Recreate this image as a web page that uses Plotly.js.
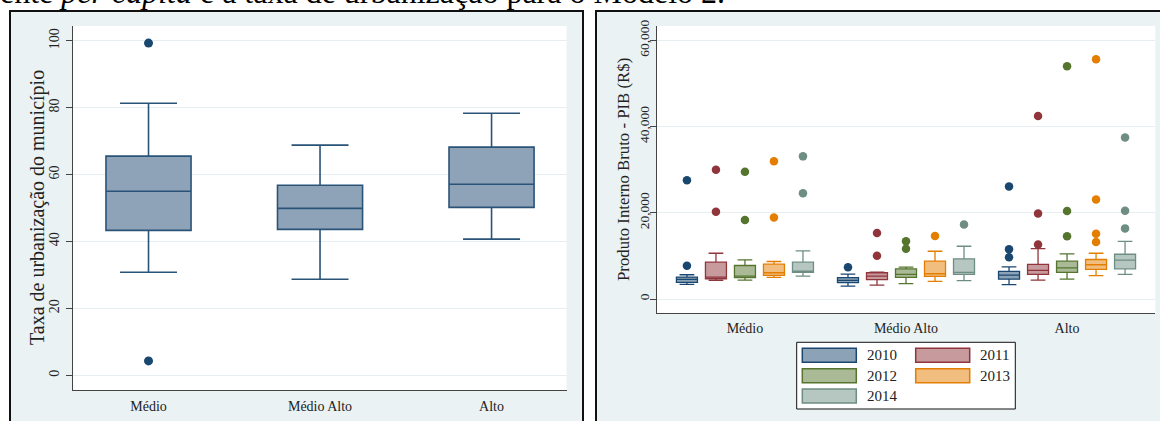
<!DOCTYPE html>
<html><head><meta charset="utf-8">
<script src="https://cdn.plot.ly/plotly-3.0.1.min.js"></script>
<style>html,body{margin:0;padding:0;background:#fff;} #chart{width:1160px;height:421px;}</style>
</head><body><div id="chart"></div>
<script>
// ---- Left panel: taxa de urbanização ----
const urbCategories = ['Médio', 'Médio Alto', 'Alto'];
const urbLowerFence = [30.8, 28.7, 40.7];
const urbQ1 = [43.3, 43.6, 50.2];
const urbMedian = [55.0, 49.9, 57.1];
const urbQ3 = [65.5, 56.8, 68.2];
const urbUpperFence = [81.3, 68.8, 78.3];
const urbOutlierCat = ['Médio', 'Médio'];
const urbOutlierVal = [99.3, 4.3];
const urbTicks = [0, 20, 40, 60, 80, 100];

// ---- Right panel: PIB by group and year ----
const pibGroups = ['Médio', 'Médio Alto', 'Alto'];
const years = ['2010', '2011', '2012', '2013', '2014'];
const yearColors = ['#1a476f', '#90353b', '#55752f', '#e37e00', '#6e8e84'];
// each row = one year, values for [Médio, Médio Alto, Alto]
const pibLower = [[3390, 3000, 3320], [4310, 3230, 4380], [4380, 3550, 4610], [5010, 4080, 5400], [5310, 4240, 5700]];
const pibQ1 = [[3850, 3780, 4610], [4700, 4480, 5700], [4940, 5010, 6160], [5470, 5240, 6850], [6160, 5700, 7010]];
const pibMedian = [[4540, 4310, 5540], [5080, 5310, 6620], [5310, 5700, 7240], [6090, 5860, 7940], [6460, 6160, 9000]];
const pibQ3 = [[5080, 4940, 6390], [8540, 6090, 8010], [7770, 7010, 8770], [8070, 8770, 9160], [8540, 9320, 10380]];
const pibUpper = [[5630, 5770, 7470], [10610, 6230, 11700], [9090, 7380, 10470], [8700, 11070, 10610], [11160, 12230, 13380]];
// outliers: group index and value, per year
const pibOutGroup = [[0, 0, 1, 2, 2, 2], [0, 0, 1, 1, 2, 2, 2], [0, 0, 1, 1, 2, 2, 2], [0, 0, 1, 2, 2, 2, 2], [0, 0, 1, 2, 2, 2]];
const pibOutVal = [
  [27550, 7700, 7380, 26070, 11540, 9690],
  [30000, 20230, 15320, 10010, 42450, 19840, 12620],
  [29530, 18320, 13380, 11630, 53990, 20390, 14530],
  [31930, 18920, 14630, 55600, 23070, 15160, 13240],
  [33080, 24550, 17300, 37470, 20460, 16380]
];
const pibTicks = [0, 20000, 40000, 60000];

// ---- layout helpers ----
const W = 1160, H = 421;
const px = x => x / W;
const py = y => 1 - y / H;
const SERIF = 'Liberation Serif';
const slot = 29 / 161, boxW = 21 / 161;

function rgba(hex, a) {
  const n = parseInt(hex.slice(1), 16);
  return `rgba(${(n >> 16) & 255},${(n >> 8) & 255},${n & 255},${a})`;
}

const traces = [];
traces.push({
  type: 'box', xaxis: 'x', yaxis: 'y',
  x: urbCategories, q1: urbQ1, median: urbMedian, q3: urbQ3,
  lowerfence: urbLowerFence, upperfence: urbUpperFence,
  fillcolor: '#8ea3b8', line: { color: '#2a5378', width: 1.6 },
  whiskerwidth: 0.67, width: 0.496, showlegend: false, hoverinfo: 'skip'
});
traces.push({
  type: 'scatter', mode: 'markers', xaxis: 'x', yaxis: 'y',
  x: urbOutlierCat, y: urbOutlierVal,
  marker: { size: 9, color: '#1a476f' }, showlegend: false, hoverinfo: 'skip'
});

years.forEach((yr, k) => {
  const pos = pibGroups.map((g, i) => i + (k - 2) * slot);
  traces.push({
    type: 'box', xaxis: 'x2', yaxis: 'y2', name: yr,
    x: pos, q1: pibQ1[k], median: pibMedian[k], q3: pibQ3[k],
    lowerfence: pibLower[k], upperfence: pibUpper[k],
    fillcolor: rgba(yearColors[k], 0.5), line: { color: yearColors[k], width: 1.3 },
    whiskerwidth: 0.7, width: boxW, showlegend: false, hoverinfo: 'skip'
  });
  traces.push({
    type: 'scatter', mode: 'markers', xaxis: 'x2', yaxis: 'y2',
    x: pibOutGroup[k].map(g => g + (k - 2) * slot), y: pibOutVal[k],
    marker: { size: 8.5, color: yearColors[k] }, showlegend: false, hoverinfo: 'skip'
  });
});

const shapes = [
  { type: 'rect', xref: 'paper', yref: 'paper', x0: px(10), x1: px(583), y0: py(440), y1: py(11),
    fillcolor: '#eaf2f3', line: { color: '#111', width: 2 }, layer: 'below' },
  { type: 'rect', xref: 'paper', yref: 'paper', x0: px(596), x1: px(1175), y0: py(440), y1: py(11),
    fillcolor: '#eaf2f3', line: { color: '#111', width: 2 }, layer: 'below' },
  { type: 'rect', xref: 'x domain', yref: 'y domain', x0: 0, x1: 1, y0: 0, y1: 1,
    fillcolor: '#ffffff', line: { width: 0 }, layer: 'below' },
  { type: 'rect', xref: 'x2 domain', yref: 'y2 domain', x0: 0, x1: 1, y0: 0, y1: 1,
    fillcolor: '#ffffff', line: { width: 0 }, layer: 'below' },
  { type: 'rect', xref: 'paper', yref: 'paper', x0: px(796.7), x1: px(1015.3), y0: py(409), y1: py(342.3),
    fillcolor: '#ffffff', line: { color: '#111', width: 1 } }
];

const annotations = [
  { xref: 'paper', yref: 'paper', x: px(37), y: py(208), xanchor: 'center', yanchor: 'middle',
    text: 'Taxa de urbanização do município',
    textangle: -90, showarrow: false, font: { family: SERIF, size: 20, color: '#222' } },
  { xref: 'paper', yref: 'paper', x: px(623), y: py(170), xanchor: 'center', yanchor: 'middle',
    text: 'Produto Interno Bruto - PIB (R$)',
    textangle: -90, showarrow: false, font: { family: SERIF, size: 16.8, color: '#222' } },
  { xref: 'paper', yref: 'paper', x: px(-2), xanchor: 'left', y: 1, yanchor: 'bottom', yshift: -12,
    text: 'ente <i>per capita</i> e a taxa de urbanização para o Modelo 2.', showarrow: false,
    font: { family: SERIF, size: 32, color: '#000' } }
];

// custom legend
const legCols = [802.3, 915.7], legTextX = [865, 978.3], legRows = [348.3, 368.7, 389];
years.forEach((yr, k) => {
  const c = k % 2, r = Math.floor(k / 2);
  shapes.push({ type: 'rect', xref: 'paper', yref: 'paper',
    x0: px(legCols[c]), x1: px(legCols[c] + 54), y0: py(legRows[r] + 14), y1: py(legRows[r]),
    fillcolor: rgba(yearColors[k], 0.5), line: { color: yearColors[k], width: 1.5 } });
  annotations.push({ xref: 'paper', yref: 'paper', x: px(legTextX[c]), xanchor: 'left',
    y: py(legRows[r] + 7), yanchor: 'middle', text: yr, showarrow: false,
    font: { family: SERIF, size: 15, color: '#222' } });
});

const axisLine = '#444';
const layout = {
  width: W, height: H,
  margin: { l: 0, r: 0, t: 0, b: 0 },
  paper_bgcolor: '#ffffff', plot_bgcolor: '#ffffff',
  boxmode: 'overlay', showlegend: false,
  font: { family: SERIF, color: '#222' },
  xaxis: {
    domain: [px(72.7), px(566.5)], anchor: 'y', type: 'category',
    categoryorder: 'array', categoryarray: urbCategories,
    range: [-0.442, 2.437], showgrid: false, zeroline: false,
    showline: true, linecolor: axisLine, linewidth: 1, ticks: '',
    ticklabelstandoff: 3, tickfont: { family: SERIF, size: 14, color: '#222' }, fixedrange: true
  },
  yaxis: {
    domain: [py(390), py(26)], anchor: 'x',
    range: [-4.4, 104.4], tickvals: urbTicks, ticks: 'outside', ticklen: 6, tickcolor: axisLine,
    tickangle: -90, showline: true, linecolor: axisLine, linewidth: 1,
    showgrid: true, gridcolor: '#e6eef1', gridwidth: 1, zeroline: false,
    ticklabelstandoff: 1, tickfont: { family: SERIF, size: 14, color: '#222' }, fixedrange: true
  },
  xaxis2: {
    domain: [px(656.7), px(1155.3)], anchor: 'y2',
    range: [-0.548, 2.548], tickvals: [0, 1, 2], ticktext: pibGroups,
    showgrid: false, zeroline: false, showline: true, linecolor: axisLine, linewidth: 1, ticks: '',
    ticklabelstandoff: 2, tickfont: { family: SERIF, size: 14, color: '#222' }, fixedrange: true
  },
  yaxis2: {
    domain: [py(313.3), py(26)], anchor: 'x2',
    range: [-3316, 63316], tickvals: pibTicks, tickformat: ',', ticks: 'outside', ticklen: 6, tickcolor: axisLine,
    tickangle: -90, showline: true, linecolor: axisLine, linewidth: 1,
    showgrid: true, gridcolor: '#e6eef1', gridwidth: 1, zeroline: false,
    ticklabelstandoff: -5, tickfont: { family: SERIF, size: 13.5, color: '#222' }, fixedrange: true
  },
  shapes: shapes,
  annotations: annotations
};

Plotly.newPlot('chart', traces, layout, { staticPlot: true, displayModeBar: false });
</script>
</body></html>
